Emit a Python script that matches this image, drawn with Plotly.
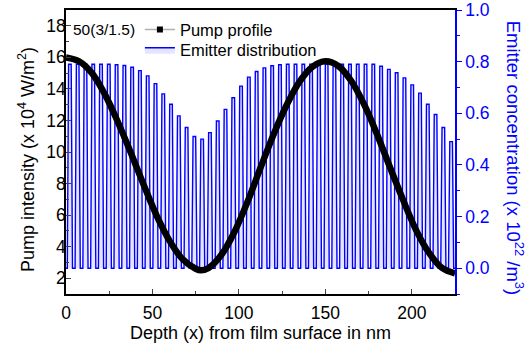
import plotly.graph_objects as go

# ---------------- data ----------------
# Pump profile (x 10^4 W/m^2) read at depth positions (nm)
pump_depth = [0, 7.5, 15, 22.5, 30, 37.5, 45, 52.5, 60, 67.5, 75, 78, 82.5, 90, 97.5,
              105, 112.5, 120, 127.5, 135, 142.5, 150, 157.5, 165, 172.5, 180, 187.5,
              195, 202.5, 210, 217.5, 225]
pump_intensity = [16.0, 15.75, 15.0, 13.65, 11.9, 9.95, 7.9, 5.95, 4.35, 3.2, 2.6, 2.5,
                  2.65, 3.5, 4.95, 6.85, 9.0, 11.1, 12.95, 14.45, 15.4, 15.75, 15.45,
                  14.5, 13.0, 11.1, 9.0, 6.95, 5.05, 3.6, 2.65, 2.3]

# Emitter distribution: 50 layers (3 nm spacer / 1.5 nm emitter), peak concentration per layer (x 10^22 /m^3)
n_layers = 50
layer_period = 4.5
emitter_peak = [0.79, 0.79, 0.79, 0.79, 0.79, 0.79, 0.788, 0.785, 0.778, 0.765,
                0.745, 0.715, 0.675, 0.635, 0.59, 0.545, 0.51, 0.50, 0.525, 0.57,
                0.615, 0.66, 0.705, 0.74, 0.762, 0.776, 0.784, 0.788, 0.79, 0.79,
                0.79, 0.79, 0.79, 0.79, 0.79, 0.79, 0.79, 0.79, 0.79, 0.79,
                0.782, 0.77, 0.757, 0.737, 0.71, 0.678, 0.635, 0.595, 0.545, 0.49]

x_ticks = [0, 50, 100, 150, 200]
left_ticks = [2, 4, 6, 8, 10, 12, 14, 16, 18]
right_ticks = [0.0, 0.2, 0.4, 0.6, 0.8, 1.0]

# build square-ish wave from the per-layer peaks
ex, ey = [0.0], [0.0]
for k, h in enumerate(emitter_peak):
    b = k * layer_period
    ex += [b + 0.75, b + 1.5, b + 3.0, b + 3.75]
    ey += [0.0, h, h, 0.0]
ex.append(n_layers * layer_period)
ey.append(0.0)

FONT = "Liberation Sans, Arial, sans-serif"
BLUE = "#0000ff"

fig = go.Figure()

# emitter distribution (right axis)
fig.add_trace(go.Scatter(
    x=ex, y=ey, mode="lines", name="Emitter distribution",
    line=dict(color=BLUE, width=1.4), fill="tozeroy", fillcolor="rgba(0,0,255,0.10)",
    yaxis="y", legend="legend2",
))

# pump profile (left axis) drawn on top
fig.add_trace(go.Scatter(
    x=pump_depth, y=pump_intensity, mode="lines", name="Pump profile",
    line=dict(color="black", width=6.5, shape="spline", smoothing=1.0),
    yaxis="y2", showlegend=False,
))
# legend sample for pump profile
fig.add_trace(go.Scatter(
    x=[None], y=[None], mode="lines+markers", name="Pump profile",
    line=dict(color="#b0b0b0", width=1.5),
    marker=dict(symbol="square", size=6, color="black"),
    yaxis="y2", legend="legend",
))

fig.add_annotation(
    text="50(3/1.5)", xref="paper", yref="paper", x=0.013, y=0.93,
    xanchor="left", yanchor="middle", showarrow=False,
    font=dict(family=FONT, size=15.5, color="black"),
)

# axis titles as annotations for precise placement
fig.add_annotation(
    text="Emitter concentration (x 10<sup>22</sup> /m<sup>3</sup>)",
    xref="paper", yref="paper", x=1.155, y=0.479, textangle=90,
    xanchor="center", yanchor="middle", showarrow=False,
    font=dict(family=FONT, size=18.5, color=BLUE),
)
fig.add_annotation(
    text="Pump intensity (x 10<sup>4</sup> W/m<sup>2</sup>)",
    xref="paper", yref="paper", x=-0.1, y=0.472, textangle=-90,
    xanchor="center", yanchor="middle", showarrow=False,
    font=dict(family=FONT, size=18, color="black"),
)
fig.add_annotation(
    text="Depth (x) from film surface in nm",
    xref="paper", yref="paper", x=0.5, y=-0.137,
    xanchor="center", yanchor="middle", showarrow=False,
    font=dict(family=FONT, size=18, color="black"),
)

leg_common = dict(
    xanchor="left", yanchor="middle",
    bgcolor="rgba(0,0,0,0)", borderwidth=0,
    font=dict(family=FONT, size=16.5, color="black"),
    tracegroupgap=0, itemwidth=30,
)

fig.update_layout(
    width=529, height=349,
    margin=dict(l=66, r=74, t=10, b=55, autoexpand=False),
    paper_bgcolor="white", plot_bgcolor="white",
    font=dict(family=FONT, size=17.5, color="black"),
    showlegend=True,
    legend=dict(x=0.19, y=0.93, **leg_common),
    legend2=dict(x=0.19, y=0.859, **leg_common),
    xaxis=dict(
        range=[0, 225], tickvals=x_ticks, ticks="inside", ticklen=5, tickwidth=1.2,
        minor=dict(dtick=25, ticks="inside", ticklen=3, tickwidth=1.2),
        showline=True, linecolor="black", linewidth=1.5, mirror=True,
        showgrid=False, zeroline=False, ticklabelstandoff=2,
        tickfont=dict(size=17.5),
    ),
    yaxis=dict(
        side="right", range=[-0.1, 1.0], tickvals=right_ticks, tickformat=".1f",
        ticks="outside", ticklen=5, tickwidth=1.2, tickcolor=BLUE,
        minor=dict(dtick=0.1, tick0=0, ticks="outside", ticklen=3, tickwidth=1.2, tickcolor=BLUE),
        showline=True, linecolor=BLUE, linewidth=1.5,
        showgrid=False, zeroline=False,
        tickfont=dict(size=17.5, color=BLUE),
    ),
    yaxis2=dict(
        side="left", overlaying="y", range=[1, 19], tickvals=left_ticks,
        ticks="inside", ticklen=5, tickwidth=1.2,
        minor=dict(dtick=1, tick0=0, ticks="inside", ticklen=3, tickwidth=1.2),
        showline=True, linecolor="black", linewidth=1.5,
        showgrid=False, zeroline=False, ticklabelstandoff=-5,
        tickfont=dict(size=17.5),
    ),
)

fig.write_html(
    "out.html",
    config={"displayModeBar": False},
    post_script="document.body.style.margin='0';document.body.style.padding='0';",
)
